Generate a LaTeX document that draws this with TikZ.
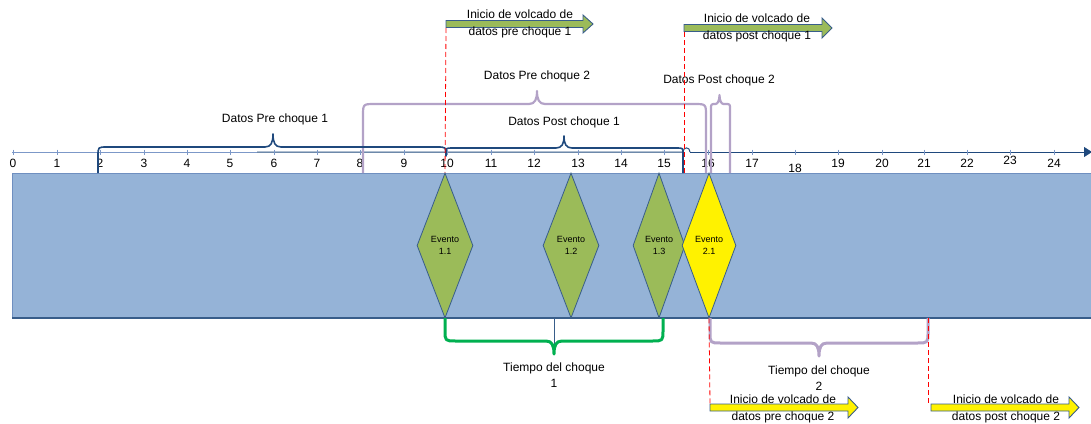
\documentclass[tikz,border=0pt]{standalone}
\usepackage{fontspec}
\setmainfont{Liberation Sans}
\usetikzlibrary{shapes.geometric,arrows.meta}

\definecolor{bandfill}{HTML}{95B3D7}
\definecolor{bandline}{HTML}{6F8FC0}
\definecolor{bandedge}{HTML}{385D8A}
\definecolor{olive}{HTML}{9BBB59}
\definecolor{navy}{HTML}{1F497D}
\definecolor{lav}{HTML}{B3A2C7}
\definecolor{grn}{HTML}{00B050}
\definecolor{axislight}{HTML}{7C98C8}

\tikzset{
  evt/.style={diamond, draw=bandedge, line width=0.8pt, inner sep=0pt,
    minimum width=54pt, minimum height=145pt, align=center,
    font=\fontsize{9}{11.5}\selectfont},
  ticklab/.style={font=\fontsize{12}{14}\selectfont, inner sep=0.5pt},
  caption/.style={font=\fontsize{12}{16}\selectfont, align=center, inner sep=0pt},
  arrowtxt/.style={font=\fontsize{12}{16.5}\selectfont, align=center, inner sep=0pt},
  blockarrow/.style={draw=bandedge, line width=0.9pt, line join=miter},
  marker/.style={draw=red, line width=0.8pt, dash pattern=on 5pt off 3pt},
  navybrace/.style={draw=navy, line width=1.6pt, line join=round},
  lavbrace/.style={draw=lav, line width=2.2pt, line join=round},
  grnbrace/.style={draw=grn, line width=3pt, line join=round},
  lavthick/.style={draw=lav, line width=3pt, line join=round},
}

% half width of the pointed middle of a curly brace
\def\brw{8}
% #1 style, (#2,#3) first end, (#4,#5) second end, #6 level of the long side,
% (#7,#8) tip, #9 corner radius (negative for a brace opening upwards)
\newcommand\curlybr[9]{%
  \draw[#1] (#2,#3) -- (#2,{#6+#9}) .. controls (#2,#6) .. ({#2+abs(#9)},#6)
    -- ({#7-\brw},#6) .. controls ({#7-2},#6) and (#7,{#6+0.35*(#8-#6)}) .. (#7,#8)
    .. controls (#7,{#6+0.35*(#8-#6)}) and ({#7+2},#6) .. ({#7+\brw},#6)
    -- ({#4-abs(#9)},#6) .. controls (#4,#6) .. (#4,{#6+#9}) -- (#4,#5);}

% block arrow: fill, start x, body top, body bottom, head start x, head top, head bottom, tip x
\newcommand\blockarr[8]{%
  \draw[blockarrow,fill=#1] (#2,#3) -- (#5,#3) -- (#5,#6) -- (#8,{(#3+#4)/2})
    -- (#5,#7) -- (#5,#4) -- (#2,#4) -- cycle;}

\begin{document}
\begin{tikzpicture}[x=1pt,y=-1pt]
\useasboundingbox (0,0) rectangle (1091,423);

% time band
\fill[bandfill] (12,173) rectangle (1095,318);
\draw[bandline, line width=0.7pt] (1095,173) -- (12,173) -- (12,318);
\draw[bandedge, line width=1.4pt] (12,318) -- (1095,318);

% events
\node[evt, fill=olive, minimum width=56pt] (ev11) at (445,245.5) {Evento\\1.1};
\node[evt, fill=olive, minimum width=56pt] (ev12) at (571,245.5) {Evento\\1.2};
\node[evt, fill=olive, minimum width=52pt] (ev13) at (659,245.5) {Evento\\1.3};
\node[evt, fill=yellow] (ev21) at (709,245.5) {Evento\\2.1};

% time axis
\coordinate (ax0) at (12,152);
\coordinate (axm) at (257,152);
\coordinate (hopA) at (683,152);
\coordinate (hopB) at (690,152);
\coordinate (axend) at (1092,152);
\draw[axislight, line width=0.8pt] (ax0) -- (axm);
\draw[navy, line width=1pt] (axm) -- (hopA) .. controls (683,146.5) and (690,146.5) .. (hopB);
\draw[navy, line width=1pt, -{Triangle[length=8pt,width=10pt]}] (hopB) -- (axend);
\foreach \v/\x in {0/13,1/57,2/100,3/144,4/187,5/230,6/274,7/317,8/360,9/404,
                   10/447,11/491,12/534,13/578,14/621,15/664,16/708,17/752,
                   19/838,20/882,21/924,22/967,24/1054}{
  \draw[axislight, line width=0.6pt] (\x,149.5) -- (\x,155);
  \node[ticklab] (t\v) at (\x,163.5) {\v};
}
\draw[axislight, line width=0.6pt] (795,149.5) -- (795,155);
\draw[axislight, line width=0.6pt] (1010,149.5) -- (1010,155);
\node[ticklab, fill=white] (t18) at (795,168) {18};
\node[ticklab, fill=white] (t23) at (1010,160) {23};

% data windows above the axis
\curlybr{lavbrace}{363}{173}{706}{173}{104}{537}{91}{12}
{\def\brw{4}\curlybr{lavbrace}{711}{173}{730}{173}{104}{719.5}{95}{5}}
\curlybr{navybrace}{98}{173}{446}{155}{147}{273}{134}{9}
\curlybr{navybrace}{446}{155}{683}{173}{148}{564}{136}{6}

\node[caption] (dpre1) at (275,119) {Datos Pre choque 1};
\node[caption] (dpost1) at (564,122) {Datos Post choque 1};
\node[caption] (dpre2) at (537,76) {Datos Pre choque 2};
\node[caption] (dpost2) at (719,80) {Datos Post choque 2};

% crash durations below the band
\draw[bandedge, line width=0.6pt] (554,318) -- (554,352);
\curlybr{grnbrace}{445}{318}{663}{318}{341}{554}{354}{-11}
\curlybr{lavthick}{710}{318}{928}{318}{343}{819}{356}{-11}

\node[caption] (tc1) at (554,375) {Tiempo del choque\\1};
\node[caption] (tc2) at (819,378) {Tiempo del choque\\2};

% dump start arrows
\blockarr{olive}{446}{20.5}{27.5}{583}{15}{33}{593}
\blockarr{olive}{684}{24.5}{31.5}{822}{18}{38}{832}
\blockarr{yellow}{710}{404}{411}{848}{397}{418}{858}
\blockarr{yellow}{931}{404}{411}{1069}{397}{418}{1079}

\node[arrowtxt] (v1) at (520,24) {Inicio de volcado de\\datos pre choque 1};
\node[arrowtxt] (v2) at (757,28) {Inicio de volcado de\\datos post choque 1};
\node[arrowtxt] (v3) at (783,409) {Inicio de volcado de\\datos pre choque 2};
\node[arrowtxt] (v4) at (1006,409) {Inicio de volcado de\\datos post choque 2};

% instants at which dumping starts
\draw[marker] (446,28) -- (ev11.north);
\draw[marker] (684,32) -- (684,173);
\draw[marker] (ev21.south) -- (710,404);
\draw[marker] (928,318) -- (928,404);
\end{tikzpicture}
\end{document}
